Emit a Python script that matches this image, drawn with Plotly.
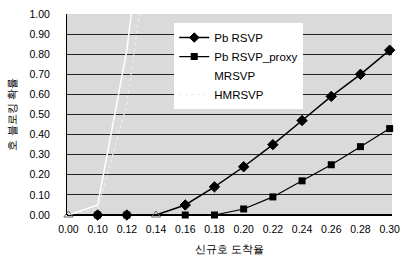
import plotly.graph_objects as go

categories = ["0.00", "0.10", "0.12", "0.14", "0.16", "0.18", "0.20", "0.22", "0.24", "0.26", "0.28", "0.30"]
pb_rsvp = [None, 0.0, 0.0, 0.0, 0.05, 0.14, 0.24, 0.35, 0.47, 0.59, 0.70, 0.82]
pb_rsvp_proxy = [None, 0.0, 0.0, None, 0.0, 0.0, 0.03, 0.09, 0.17, 0.25, 0.34, 0.43]
mrsvp = [0.0, 0.05, 0.82, 2.0, None, None, None, None, None, None, None, None]
hmrsvp = [0.0, 0.03, 0.55, 1.6, None, None, None, None, None, None, None, None]
tri_pts = [0.0, None, None, 0.0, None, None, None, None, None, None, None, None]
y_ticks = [0.0, 0.1, 0.2, 0.3, 0.4, 0.5, 0.6, 0.7, 0.8, 0.9, 1.0]
y_ticktext = ["0.00", "0.10", "0.20", "0.30", "0.40", "0.50", "0.60", "0.70", "0.80", "0.90", "1.00"]

font = "Liberation Sans, Arial, sans-serif"
rsvp_sizes = [0 if c == "0.14" else 8 for c in categories]

fig = go.Figure()
fig.add_trace(go.Scatter(x=categories, y=mrsvp, name="MRSVP", mode="lines",
                         line=dict(color="white", width=1.5), legendrank=3))
fig.add_trace(go.Scatter(x=categories, y=hmrsvp, name="HMRSVP", mode="lines",
                         line=dict(color="#eeeeee", width=1.2, dash="dot"), legendrank=4))
fig.add_trace(go.Scatter(x=categories, y=pb_rsvp, name="Pb RSVP", mode="lines+markers",
                         line=dict(color="black", width=1.5), legendrank=1,
                         marker=dict(symbol="diamond", size=rsvp_sizes, color="#000000",
                                     opacity=1, line=dict(color="#000000", width=1)),
                         cliponaxis=False))
fig.add_trace(go.Scatter(x=categories, y=pb_rsvp_proxy, name="Pb RSVP_proxy", mode="lines+markers",
                         line=dict(color="black", width=1.2), connectgaps=True, legendrank=2,
                         marker=dict(symbol="square", size=7, color="black"), cliponaxis=False))
fig.add_trace(go.Scatter(x=categories, y=tri_pts, mode="markers", showlegend=False,
                         marker=dict(symbol="triangle-up-open", size=8, color="#666666"),
                         cliponaxis=False))

fig.update_layout(
    width=404, height=271,
    margin=dict(l=67, r=12, t=14, b=56, autoexpand=False),
    paper_bgcolor="white", plot_bgcolor="#dadada",
    font=dict(family=font, size=11, color="black"),
    showlegend=True,
    legend=dict(x=0.33, y=0.955, xanchor="left", yanchor="top",
                bgcolor="white", borderwidth=0, font=dict(size=11.5, color="black"),
                itemwidth=30, tracegroupgap=0),
    xaxis=dict(type="category", range=[-0.05, 11.08], showgrid=False, showline=False,
               automargin=False,
               ticks="", tickfont=dict(size=10.5, color="black"), ticklabelstandoff=6,
               title=dict(text="신규호 도착율", font=dict(size=11, color="black"), standoff=11)),
    yaxis=dict(range=[0, 1.0], tickvals=y_ticks, ticktext=y_ticktext,
               showgrid=True, gridcolor="#222222", gridwidth=1, automargin=False,
               showline=True, linecolor="black", linewidth=1, zeroline=True,
               zerolinecolor="black", zerolinewidth=1.5,
               ticks="", tickfont=dict(size=10.5, color="black"), ticklabelstandoff=14,
               title=dict(text="호 블로킹 확률", font=dict(size=11, color="black"), standoff=10)),
)
fig.write_html("out.html", config={"displayModeBar": False},
               post_script="document.body.style.margin='0';")
